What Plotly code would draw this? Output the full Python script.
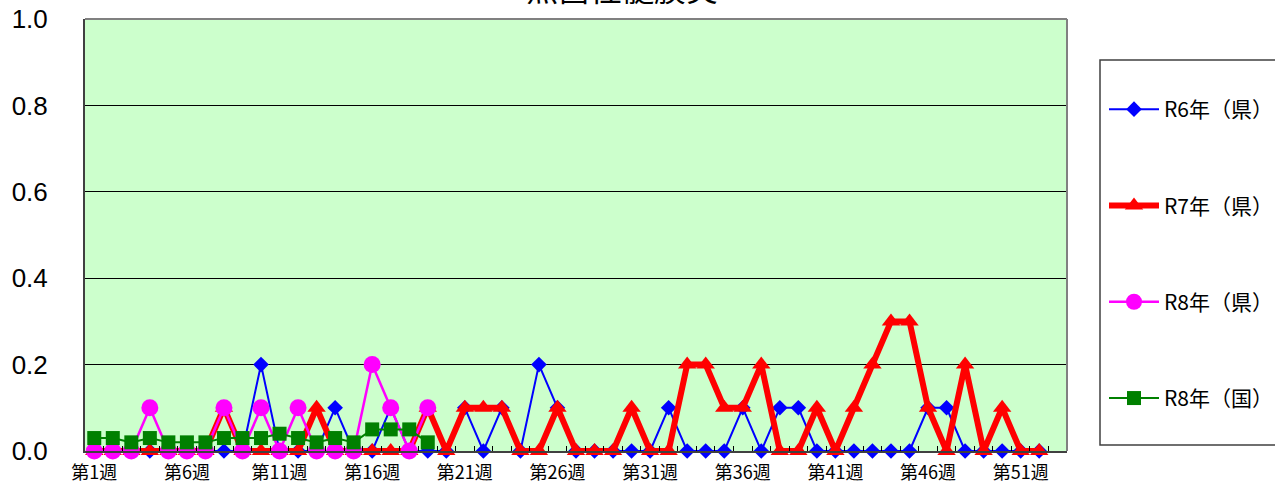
import plotly.graph_objects as go

weeks = [f"第{i}週" for i in range(1, 54)]
tick_labels = [w if (i % 5 == 0) else "" for i, w in enumerate(weeks)]

r6_pref = [0, 0, 0, 0, 0, 0, 0, 0, 0, 0.2, 0, 0, 0, 0.1, 0, 0, 0.1, 0, 0, 0,
           0.1, 0, 0.1, 0, 0.2, 0.1, 0, 0, 0, 0, 0, 0.1, 0, 0, 0, 0.1, 0, 0.1, 0.1, 0,
           0, 0, 0, 0, 0, 0.1, 0.1, 0, 0, 0, 0, 0]
r7_pref = [0, 0, 0, 0, 0, 0, 0, 0.1, 0, 0, 0, 0, 0.1, 0, 0, 0, 0, 0, 0.1, 0,
           0.1, 0.1, 0.1, 0, 0, 0.1, 0, 0, 0, 0.1, 0, 0, 0.2, 0.2, 0.1, 0.1, 0.2, 0, 0, 0.1,
           0, 0.1, 0.2, 0.3, 0.3, 0.1, 0, 0.2, 0, 0.1, 0, 0]
r8_pref = [0, 0, 0, 0.1, 0, 0, 0, 0.1, 0, 0.1, 0, 0.1, 0, 0, 0, 0.2, 0.1, 0, 0.1]
r8_nat = [0.03, 0.03, 0.02, 0.03, 0.02, 0.02, 0.02, 0.03, 0.03, 0.03, 0.04, 0.03,
          0.02, 0.03, 0.02, 0.05, 0.05, 0.05, 0.02]

title_text = "無菌性髄膜炎"
names = ["R6年（県）", "R7年（県）", "R8年（県）", "R8年（国）"]

W, H = 1275, 488
L, R, T, B = 85, 1067, 19, 451
pw, ph = R - L, B - T


def px_x(x):
    return (x - L) / pw


def px_y(y):
    return (B - y) / ph


fig = go.Figure()
fig.add_trace(go.Scatter(
    x=weeks[:len(r6_pref)], y=r6_pref, name=names[0], mode="lines+markers",
    line=dict(color="#0000FF", width=2),
    marker=dict(symbol="diamond", size=12, color="#0000FF"),
    cliponaxis=False, legendgroup="a"))
fig.add_trace(go.Scatter(
    x=weeks[:len(r7_pref)], y=r7_pref, name=names[1], mode="lines+markers",
    line=dict(color="#FF0000", width=6),
    marker=dict(symbol="triangle-up", size=16, color="#FF0000"),
    cliponaxis=False, legendgroup="b"))
fig.add_trace(go.Scatter(
    x=weeks[:len(r8_pref)], y=r8_pref, name=names[2], mode="lines+markers",
    line=dict(color="#FF00FF", width=2.5),
    marker=dict(symbol="circle", size=17, color="#FF00FF"),
    cliponaxis=False, legendgroup="c"))
fig.add_trace(go.Scatter(
    x=weeks[:len(r8_nat)], y=r8_nat, name=names[3], mode="lines+markers",
    line=dict(color="#008000", width=2),
    marker=dict(symbol="square", size=14, color="#008000"),
    cliponaxis=False, legendgroup="d"))

fig.update_layout(
    width=W, height=H, autosize=False,
    margin=dict(l=L, r=W - R, t=T, b=H - B, pad=0, autoexpand=False),
    paper_bgcolor="white", plot_bgcolor="#CCFFCC",
    font=dict(family="Noto Sans CJK JP, Liberation Sans, sans-serif", color="black"),
    showlegend=True,
    legend=dict(
        x=px_x(1104), xanchor="left", y=px_y(89), yanchor="top",
        bgcolor="rgba(0,0,0,0)", borderwidth=0,
        font=dict(size=21, family="Noto Sans CJK JP, sans-serif", color="black"),
        tracegroupgap=66, itemwidth=50,
    ),
    xaxis=dict(
        type="category", categoryorder="array", categoryarray=weeks,
        range=[-0.5, len(weeks) - 0.5],
        tickmode="array", tickvals=weeks, ticktext=tick_labels,
        ticks="inside", tickson="boundaries", ticklen=5, tickcolor="black", tickwidth=1,
        showline=True, linecolor="#404040", linewidth=2, mirror=False,
        showgrid=False, tickangle=0, ticklabelstandoff=4,
        tickfont=dict(size=18, family="Noto Sans CJK JP, sans-serif", color="black"),
    ),
    yaxis=dict(
        range=[0, 1], tickmode="linear", tick0=0, dtick=0.2, tickformat=".1f",
        showgrid=True, gridcolor="black", gridwidth=1, zeroline=False,
        showline=True, linecolor="#404040", linewidth=2, mirror=False,
        ticks="", ticklabelstandoff=30,
        tickfont=dict(size=26, family="Liberation Sans, Arial, sans-serif", color="black"),
    ),
    shapes=[
        dict(type="line", xref="paper", yref="paper", x0=0, x1=1, y0=1, y1=1,
             line=dict(color="#808080", width=2)),
        dict(type="line", xref="paper", yref="paper", x0=1, x1=1, y0=0, y1=1,
             line=dict(color="#808080", width=2)),
        dict(type="rect", xref="paper", yref="paper",
             x0=px_x(1100), x1=px_x(1300), y0=px_y(445), y1=px_y(60),
             line=dict(color="#404040", width=1.5), fillcolor="white", layer="below"),
    ],
    annotations=[
        dict(text=title_text, xref="paper", yref="paper",
             x=px_x(622), y=px_y(-13), xanchor="center", yanchor="middle",
             showarrow=False,
             font=dict(size=32, family="Noto Sans CJK JP, sans-serif", color="black")),
    ],
)

fig.write_html("out.html", config={"displayModeBar": False},
               post_script="document.body.style.margin='0px';")
